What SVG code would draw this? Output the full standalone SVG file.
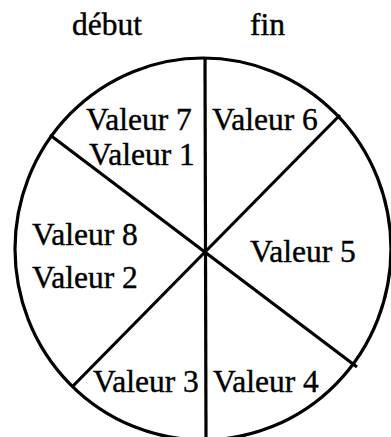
<svg xmlns="http://www.w3.org/2000/svg" width="391" height="437" viewBox="0 0 391 437">
<style>
.t{font-family:"Liberation Serif","Times New Roman",serif;font-size:31.5px;fill:#000;stroke:#000;stroke-width:0.4}
.l{stroke:#000;stroke-width:3.2;fill:none}
</style>
<rect width="391" height="437" fill="#fff"/>
<g id="circle"><ellipse class="l" cx="203" cy="249" rx="188" ry="191"/></g>
<g id="connectors">
<line class="l" x1="205" y1="58" x2="206" y2="437"/>
<line class="l" x1="50" y1="135" x2="357" y2="367"/>
<line class="l" x1="340" y1="115" x2="72" y2="387"/>
</g>
<g id="labels">
<text class="t" x="72" y="35">début</text>
<text class="t" x="250" y="35">fin</text>
<text class="t" x="86" y="130">Valeur 7</text>
<text class="t" x="89" y="165">Valeur 1</text>
<text class="t" x="212" y="130">Valeur 6</text>
<text class="t" x="32" y="245">Valeur 8</text>
<text class="t" x="32" y="288">Valeur 2</text>
<text class="t" x="250" y="262">Valeur 5</text>
<text class="t" x="93" y="392">Valeur 3</text>
<text class="t" x="213" y="392">Valeur 4</text>
</g>
</svg>
